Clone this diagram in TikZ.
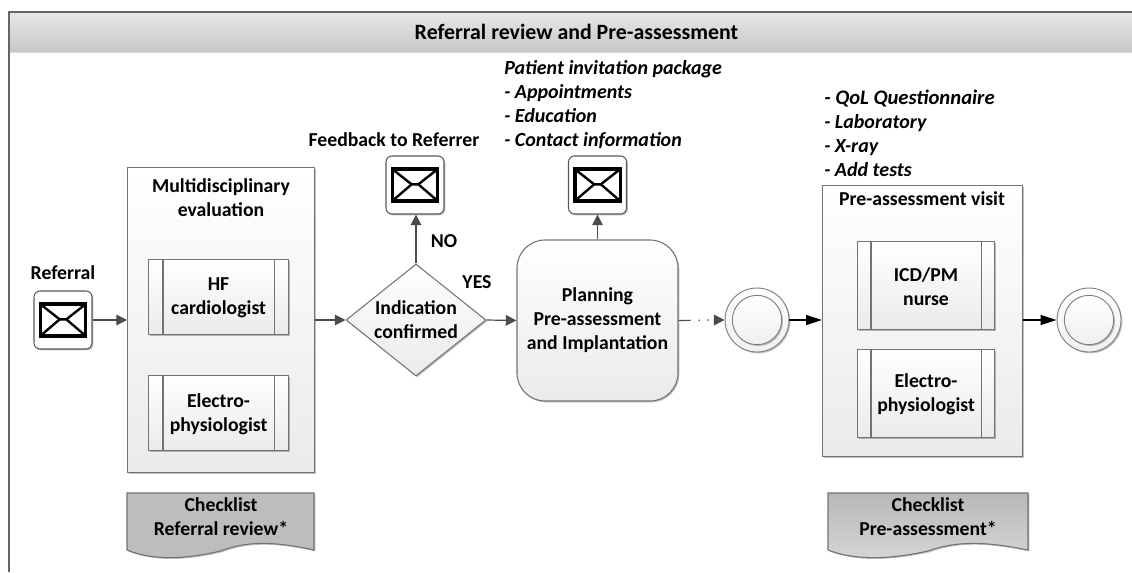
\documentclass[tikz,border=0pt]{standalone}
\usepackage{fontspec}
\setmainfont{Carlito}
\usetikzlibrary{arrows.meta,shapes.geometric,shadows}
\tikzset{
  x=0.75pt,y=-0.75pt,
  txt/.style={font=\fontsize{14.8}{18}\selectfont\bfseries,align=center,inner sep=0pt,text=black},
  itxt/.style={font=\fontsize{15}{18}\selectfont\bfseries\itshape,align=left,inner sep=0pt,anchor=north west,text=black},
  softshadow/.style={drop shadow={shadow xshift=1pt,shadow yshift=-1pt,opacity=0.25,fill=black}},
  gradbox/.style={draw=black!55,line width=0.8pt,top color=white,bottom color=black!8,softshadow},
  flowline/.style={draw=black!70,line width=0.9pt,-{Triangle[length=8pt,width=8pt]}},
  blackline/.style={draw=black,line width=0.9pt,-{Triangle[length=12pt,width=7.5pt]}},
  dotline/.style={draw=black!70,line width=0.9pt,dash pattern=on 9pt off 6pt on 1pt off 5.5pt on 1pt off 6pt},
  msgbox/.style={draw=black!65,line width=0.8pt,fill=white,rounded corners=4.5pt,minimum width=43.5pt,minimum height=43.5pt,inner sep=0pt,softshadow},
  doca/.style={draw=black!55,line width=0.8pt,fill=black!26},
  docb/.style={draw=black!55,line width=0.8pt,top color=black!28,bottom color=black!16},
  ring/.style={circle,draw=black!50,line width=0.7pt,top color=white,bottom color=black!6,inner sep=0pt,softshadow},
}
\newcommand{\envelope}[1]{%
  \draw[line width=2.5pt,black,line join=miter] ([xshift=-17pt,yshift=12pt]#1.center) rectangle ([xshift=17pt,yshift=-12pt]#1.center);
  \draw[line width=1.8pt,black] ([xshift=-16.5pt,yshift=11.5pt]#1.center) -- ([xshift=-2.5pt,yshift=0.5pt]#1.center) -- ([xshift=2.5pt,yshift=0.5pt]#1.center) -- ([xshift=16.5pt,yshift=11.5pt]#1.center);
  \draw[line width=1.8pt,black] ([xshift=-16.5pt,yshift=-11.5pt]#1.center) -- ([xshift=-2.5pt,yshift=0.5pt]#1.center) ([xshift=2.5pt,yshift=0.5pt]#1.center) -- ([xshift=16.5pt,yshift=-11.5pt]#1.center);
}
\newcommand{\subproc}[7]{%
  \node[gradbox,rectangle,minimum width=#4*0.75pt-#2*0.75pt,minimum height=#5*0.75pt-#3*0.75pt,inner sep=0pt,anchor=north west] (#1) at (#2,#3) {};
  \draw[draw=black!55,line width=0.8pt] ([xshift=#6*0.75pt]#1.north west) -- ([xshift=#6*0.75pt]#1.south west);
  \draw[draw=black!55,line width=0.8pt] ([xshift=-#6*0.75pt]#1.north east) -- ([xshift=-#6*0.75pt]#1.south east);
  \node[txt] (#1t) at ([yshift=-0.75pt]#1.center) {#7};
}
\newcommand{\checkdoc}[3]{%
  \path[#3,softshadow] (#1,493) -- (#2,493) -- (#2,550)
    .. controls ({#2-0.22*(#2-#1)},541) and ({#2-0.36*(#2-#1)},541) .. ({(#1+#2)/2},551)
    .. controls ({#1+0.32*(#2-#1)},559) and ({#1+0.14*(#2-#1)},561) .. (#1,550) -- cycle;
}
\begin{document}
\begin{tikzpicture}
\useasboundingbox (0,0) rectangle (1132,572);
\fill[white] (0,0) rectangle (1132,572);
% frame
\fill[top color=black!9,bottom color=black!22] (9,12) rectangle (1132,52);
\draw[black!15,line width=0.8pt] (9,52.5) -- (1132,52.5);
\draw[black!60,line width=1pt] (9,572) -- (9,12) -- (1132,12);
\node[txt] (title) at (576.5,32) {\fontsize{16.4}{18}\selectfont Referral review and Pre-assessment};

% left container
\node[gradbox,rectangle,minimum width=140.25pt,minimum height=228.75pt,inner sep=0pt,anchor=north west] (multi) at (127,167) {};
\node[txt,anchor=north] (multit) at (221,178) {Multidisciplinary\\evaluation};
\subproc{hf}{148}{259}{288}{334}{15}{HF\\cardiologist}
\subproc{ep}{148}{375}{288}{450}{15}{Electro-\\physiologist}

\checkdoc{127}{314}{doca}
\node[txt] (chk1) at (221,517) {Checklist\\Referral review*};

% messages
\node[msgbox] (ref) at (63,320) {};
\envelope{ref}
\node[txt] (reft) at (63,273) {Referral};
\node[msgbox] (fb) at (415,185) {};
\envelope{fb}
\node[txt] (fbt) at (394,140) {Feedback to Referrer};
\node[msgbox] (pack) at (597.5,185) {};
\envelope{pack}
\node[itxt] (packt) at (504,60) {Patient invitation package\\- Appointments\\- Education\\- Contact information};

% diamond
\node[diamond,gradbox,minimum width=105pt,minimum height=84pt,inner sep=0pt,aspect=1.25] (dec) at (416,320) {};
\node[txt] (dect) at (416,320) {Indication\\confirmed};
\node[txt] (no) at (444,241) {NO};
\node[txt] (yes) at (477,282) {YES};

% planning
\node[gradbox,rectangle,rounded corners=21pt,minimum width=120.75pt,minimum height=120.75pt,inner sep=0pt] (plan) at (597.5,320.5) {};
\node[txt] (plant) at (597.5,320) {Planning\\Pre-assessment\\and Implantation};

% right container
\node[gradbox,rectangle,minimum width=150pt,minimum height=203.25pt,inner sep=0pt,anchor=north west] (pre) at (822,185) {};
\node[txt] (pret) at (922,199) {Pre-assessment visit};
\subproc{icd}{857}{241}{994}{329}{14}{ICD/PM\\nurse}
\subproc{ep2}{857}{349}{994}{437}{14}{Electro-\\physiologist}
\node[itxt] (qolt) at (824,90) {\fontsize{15.5}{18}\selectfont - QoL Questionnaire\\- Laboratory\\- X-ray\\- Add tests};

\checkdoc{828}{1028}{docb}
\node[txt] (chk2) at (928,517) {Checklist\\Pre-assessment*};

% events
\node[ring,minimum size=48pt] (c1) at (757,320) {};
\node[ring,minimum size=37pt] (c1i) at (757,320) {};
\node[ring,minimum size=48pt] (c2) at (1089,320) {};
\node[ring,minimum size=37pt] (c2i) at (1089,320) {};

% connectors
\draw[flowline] (ref.east) -- (multi.west |- ref.east);
\draw[flowline] (multi.east |- dec.west) -- (dec.west);
\draw[flowline] (dec.north) -- (dec.north |- fb.south);
\draw[flowline] (dec.east) -- (plan.west);
\draw[flowline] (pack.south |- plan.north) -- (pack.south);
\coordinate (dotend) at ([xshift=-8pt]c1.west);
\draw[dotline] (plan.east) -- (dotend);
\draw[flowline] (dotend) -- (c1.west);
\draw[blackline] (c1.east) -- (pre.west |- c1.east);
\draw[blackline] (pre.east |- c2.west) -- (c2.west);
\end{tikzpicture}
\end{document}
